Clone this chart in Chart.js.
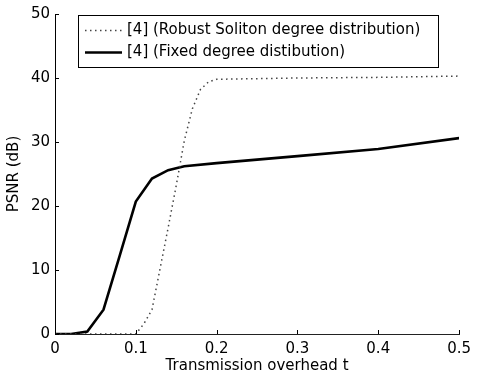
<!DOCTYPE html>
<html>
<head>
<meta charset="utf-8">
<script src="https://cdn.jsdelivr.net/npm/chart.js@4.4.0/dist/chart.umd.min.js"></script>
<style>
  html, body { margin: 0; padding: 0; background: #fff; }
</style>
</head>
<body>
<canvas id="c" width="477" height="382"></canvas>
<script>
// values
var robustX = [0, 0.1, 0.11, 0.12, 0.13, 0.14, 0.15, 0.16, 0.17, 0.18, 0.19, 0.2, 0.3, 0.4, 0.5];
var robustY = [0, 0, 1.6, 3.8, 10.2, 16.6, 23.2, 30.2, 35.2, 38.2, 39.4, 39.8, 40.0, 40.1, 40.3];
var fixedX = [0, 0.02, 0.04, 0.06, 0.08, 0.1, 0.12, 0.14, 0.16, 0.2, 0.3, 0.4, 0.5];
var fixedY = [0, 0, 0.4, 3.8, 12.2, 20.7, 24.3, 25.6, 26.2, 26.7, 27.8, 28.9, 30.6];
var seriesNames = ['[4] (Robust Soliton degree distribution)', '[4] (Fixed degree distibution)'];
var xTicks = [0, 0.1, 0.2, 0.3, 0.4, 0.5];
var yTicks = [0, 10, 20, 30, 40, 50];

var FONT = 'DejaVu Sans';

function pts(xs, ys) {
  return xs.map(function (x, i) { return { x: x, y: ys[i] }; });
}

// ticks pointing into the plot, matlab style
var innerTicks = {
  id: 'innerTicks',
  afterDatasetsDraw: function (chart) {
    var ctx = chart.ctx, a = chart.chartArea;
    var xs = chart.scales.x, ys = chart.scales.y;
    ctx.save();
    ctx.strokeStyle = '#000';
    ctx.lineWidth = 1;
    ctx.beginPath();
    xTicks.forEach(function (v) {
      var px = Math.round(xs.getPixelForValue(v)) + 0.5;
      ctx.moveTo(px, a.bottom);
      ctx.lineTo(px, a.bottom - 4);
    });
    yTicks.forEach(function (v) {
      var py = Math.round(ys.getPixelForValue(v)) + 0.5;
      ctx.moveTo(a.left, py);
      ctx.lineTo(a.left + 4, py);
    });
    ctx.stroke();
    ctx.restore();
  }
};

// boxed legend inside the axes
var boxLegend = {
  id: 'boxLegend',
  afterDraw: function (chart) {
    var ctx = chart.ctx;
    var bx = 78.5, by = 15.5, bw = 360, bh = 52;
    ctx.save();
    ctx.fillStyle = '#fff';
    ctx.fillRect(bx, by, bw, bh);
    ctx.strokeStyle = '#000';
    ctx.lineWidth = 1;
    ctx.strokeRect(bx, by, bw, bh);
    var rows = [30.5, 52.5];
    chart.data.datasets.forEach(function (ds, i) {
      var y = rows[i];
      ctx.beginPath();
      ctx.strokeStyle = ds.borderColor;
      ctx.lineWidth = ds.borderWidth;
      ctx.setLineDash(ds.borderDash || []);
      ctx.moveTo(85, y);
      ctx.lineTo(122, y);
      ctx.stroke();
      ctx.setLineDash([]);
      ctx.fillStyle = '#000';
      ctx.font = '15px "' + FONT + '"';
      ctx.textBaseline = 'middle';
      ctx.fillText(ds.label, 127, y);
    });
    ctx.restore();
  }
};

new Chart(document.getElementById('c'), {
  type: 'line',
  data: {
    datasets: [{
      label: seriesNames[0],
      data: pts(robustX, robustY),
      borderColor: '#444',
      borderWidth: 1.5,
      borderDash: [1.5, 3.5],
      pointRadius: 0,
      tension: 0,
      fill: false
    }, {
      label: seriesNames[1],
      data: pts(fixedX, fixedY),
      borderColor: '#000',
      borderWidth: 2.6,
      pointRadius: 0,
      tension: 0,
      fill: false
    }]
  },
  options: {
    responsive: false,
    animation: false,
    layout: { padding: { top: 10, right: 12, left: 0, bottom: 0 } },
    plugins: { legend: { display: false }, tooltip: { enabled: false } },
    scales: {
      x: {
        type: 'linear',
        min: 0, max: 0.5,
        afterFit: function (s) { s.height = 48; },
        afterBuildTicks: function (s) { s.ticks = xTicks.map(function (v) { return { value: v }; }); },
        grid: { display: false, drawTicks: false },
        border: { display: true, color: '#222', width: 1 },
        ticks: {
          color: '#000', padding: 6, maxRotation: 0,
          font: { family: FONT, size: 15 },
          callback: function (v) { return String(+v.toFixed(1)); }
        },
        title: {
          display: true, text: 'Transmission overhead t', color: '#000',
          font: { family: FONT, size: 15 }, padding: { top: 0, bottom: 7 }
        }
      },
      y: {
        min: 0, max: 50,
        afterFit: function (s) { s.width = 55; },
        afterBuildTicks: function (s) { s.ticks = yTicks.map(function (v) { return { value: v }; }); },
        grid: { display: false, drawTicks: false },
        border: { display: true, color: '#000', width: 1 },
        ticks: {
          color: '#000', padding: 5,
          font: { family: FONT, size: 15 }
        },
        title: {
          display: true, text: 'PSNR (dB)', color: '#000',
          font: { family: FONT, size: 15 }, padding: { top: 5, bottom: 0 }
        }
      }
    }
  },
  plugins: [innerTicks, boxLegend]
});
</script>
</body>
</html>
